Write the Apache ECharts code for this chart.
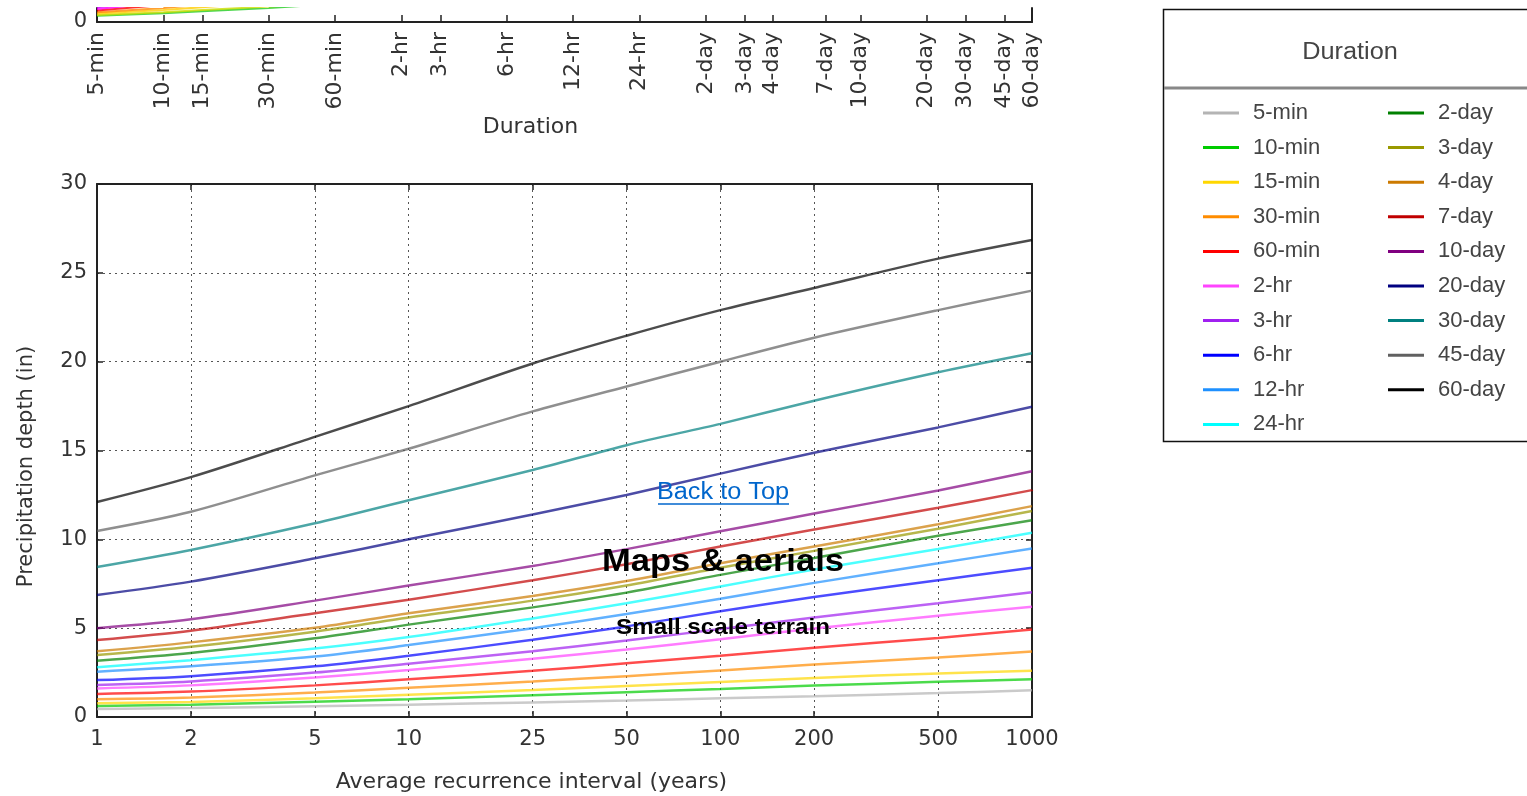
<!DOCTYPE html>
<html>
<head>
<meta charset="utf-8">
<title>Precipitation depth vs recurrence interval</title>
<script src="https://cdn.jsdelivr.net/npm/echarts@6/dist/echarts.min.js"></script>
<style>
  html, body { margin: 0; padding: 0; background: #fff; }
  #main { width: 1527px; height: 796px; }
</style>
</head>
<body>
<div id="main"></div>
<script>
'use strict';

// durations (legend / upper chart axis)
var durations = ['5-min', '10-min', '15-min', '30-min', '60-min', '2-hr', '3-hr', '6-hr', '12-hr', '24-hr',
    '2-day', '3-day', '4-day', '7-day', '10-day', '20-day', '30-day', '45-day', '60-day'];
var durationMinutes = [5, 10, 15, 30, 60, 120, 180, 360, 720, 1440,
    2880, 4320, 5760, 10080, 14400, 28800, 43200, 64800, 86400];

// average recurrence interval (years), bottom axis ticks
var recurrenceYears = [1, 2, 5, 10, 25, 50, 100, 200, 500, 1000];

// precipitation depth (in) per duration, one value per recurrence interval
var depth5min  = [0.45, 0.50, 0.60, 0.69, 0.82, 0.93, 1.05, 1.17, 1.35, 1.50];
var depth10min = [0.62, 0.69, 0.86, 1.00, 1.22, 1.40, 1.58, 1.77, 1.98, 2.12];
var depth15min = [0.77, 0.85, 1.06, 1.25, 1.52, 1.74, 1.97, 2.20, 2.45, 2.61];
var depth30min = [1.00, 1.10, 1.38, 1.64, 2.00, 2.30, 2.62, 2.95, 3.35, 3.68];
var depth60min = [1.30, 1.43, 1.78, 2.12, 2.60, 3.02, 3.45, 3.90, 4.45, 4.93];
var depth2hr   = [1.61, 1.78, 2.22, 2.65, 3.28, 3.80, 4.38, 4.98, 5.70, 6.21];
var depth3hr   = [1.80, 2.00, 2.50, 3.00, 3.70, 4.30, 4.95, 5.60, 6.40, 7.02];
var depth6hr   = [2.08, 2.30, 2.85, 3.45, 4.35, 5.10, 5.95, 6.75, 7.70, 8.40];
var depth12hr  = [2.55, 2.85, 3.40, 4.05, 5.00, 5.80, 6.65, 7.55, 8.65, 9.49];
var depth24hr  = [2.80, 3.20, 3.85, 4.50, 5.55, 6.40, 7.35, 8.30, 9.45, 10.37];
var depth2day  = [3.17, 3.60, 4.43, 5.20, 6.17, 7.00, 8.00, 8.95, 10.20, 11.08];
var depth3day  = [3.49, 3.95, 4.80, 5.60, 6.55, 7.40, 8.40, 9.35, 10.60, 11.60];
var depth4day  = [3.70, 4.20, 5.02, 5.84, 6.81, 7.65, 8.65, 9.60, 10.85, 11.87];
var depth7day  = [4.33, 4.86, 5.84, 6.60, 7.70, 8.60, 9.60, 10.55, 11.78, 12.77];
var depth10day = [5.00, 5.50, 6.55, 7.40, 8.50, 9.45, 10.45, 11.45, 12.75, 13.83];
var depth20day = [6.87, 7.62, 8.93, 10.00, 11.40, 12.50, 13.70, 14.87, 16.30, 17.46];
var depth30day = [8.44, 9.40, 10.90, 12.20, 13.90, 15.30, 16.50, 17.80, 19.40, 20.47];
var depth45day = [10.47, 11.55, 13.60, 15.10, 17.20, 18.60, 20.00, 21.35, 22.90, 24.00];
var depth60day = [12.10, 13.50, 15.77, 17.50, 19.90, 21.46, 22.90, 24.15, 25.80, 26.85];

var depthByDuration = [depth5min, depth10min, depth15min, depth30min, depth60min, depth2hr, depth3hr,
    depth6hr, depth12hr, depth24hr, depth2day, depth3day, depth4day, depth7day, depth10day,
    depth20day, depth30day, depth45day, depth60day];

var durationColors = ['#b4b4b4', '#00cc00', '#ffd700', '#ff8c00', '#ff0000', '#ff44ff', '#a020f0',
    '#0000ff', '#1e90ff', '#00ffff', '#008000', '#999900', '#cc7a00', '#c00000', '#800080',
    '#000080', '#008080', '#606060', '#000000'];
var recurrenceColors = ['#22cc22', '#ccdd00', '#ffcc00', '#ff8800', '#ff0000', '#ff00ff',
    '#cc00ff', '#9900ff', '#6600ff', '#3300ff'];

function rgba(hex, a) {
    var n = parseInt(hex.slice(1), 16);
    return 'rgba(' + (n >> 16) + ',' + ((n >> 8) & 255) + ',' + (n & 255) + ',' + a + ')';
}

var yearLogs = recurrenceYears.map(function(y) { return Math.log10(y); });
var minuteLogs = durationMinutes.map(function(m) { return Math.log10(m); });

var myChart = echarts.init(document.getElementById('main'));

var axisFont = 'DejaVu Sans';
var series = [];

// lower chart: depth vs recurrence interval, one line per duration
durations.forEach(function(name, i) {
    series.push({
        name: name,
        type: 'line',
        xAxisIndex: 0,
        yAxisIndex: 0,
        smooth: 0.3,
        showSymbol: false,
        color: durationColors[i],
        lineStyle: { width: 2.5, color: rgba(durationColors[i], 0.7) },
        data: recurrenceYears.map(function(y, k) { return [yearLogs[k], depthByDuration[i][k]]; }),
        z: 3
    });
});

// upper chart (cropped): depth vs duration, one line per recurrence interval
recurrenceYears.forEach(function(yr, k) {
    series.push({
        name: yr + '-yr',
        type: 'line',
        xAxisIndex: 2,
        yAxisIndex: 2,
        showSymbol: false,
        color: recurrenceColors[k],
        lineStyle: { width: 2, color: rgba(recurrenceColors[k], 0.8) },
        data: durationMinutes.map(function(m, i) { return [minuteLogs[i], depthByDuration[i][k]]; }),
        z: 3
    });
});

var spine = { show: true, onZero: false, lineStyle: { color: '#222', width: 2 } };
var dotted = { show: true, lineStyle: { color: '#555', width: 1, type: [2, 4] } };
var tickStyle = { color: '#222', width: 1.5 };

var option = {
    animation: false,
    backgroundColor: '#fff',
    grid: [
        { left: 97, right: 495, top: 184, bottom: 79, outerBoundsMode: 'none' },
        { left: 97, right: 495, top: 8, height: 14, outerBoundsMode: 'none' }
    ],
    xAxis: [{
        type: 'value',
        gridIndex: 0,
        position: 'bottom',
        min: 0,
        max: 3,
        axisLine: spine,
        axisTick: { show: true, inside: true, length: 6, customValues: yearLogs, lineStyle: tickStyle },
        axisLabel: {
            customValues: yearLogs,
            margin: 12,
            fontSize: 21,
            color: '#333',
            fontFamily: axisFont,
            formatter: function(v) { return String(Math.round(Math.pow(10, v))); }
        },
        splitLine: dotted,
        name: 'Average recurrence interval (years)',
        nameLocation: 'middle',
        nameGap: 54,
        nameTextStyle: { fontSize: 22, color: '#333', fontFamily: axisFont, padding: [0, 66, 0, 0] }
    }, {
        type: 'value',
        gridIndex: 0,
        position: 'top',
        min: 0,
        max: 3,
        axisLine: spine,
        axisTick: { show: true, inside: true, length: 6, customValues: yearLogs, lineStyle: tickStyle },
        axisLabel: { show: false },
        splitLine: { show: false }
    }, {
        type: 'value',
        gridIndex: 1,
        position: 'bottom',
        min: minuteLogs[0],
        max: minuteLogs[minuteLogs.length - 1],
        axisLine: spine,
        axisTick: { show: true, inside: true, length: 7, customValues: minuteLogs, lineStyle: tickStyle },
        axisLabel: {
            customValues: minuteLogs,
            rotate: 90,
            margin: 10,
            fontSize: 22,
            color: '#333',
            fontFamily: axisFont,
            formatter: function(v) {
                for (var i = 0; i < minuteLogs.length; i++) {
                    if (Math.abs(minuteLogs[i] - v) < 1e-6) return durations[i];
                }
                return '';
            }
        },
        splitLine: { show: false },
        name: 'Duration',
        nameLocation: 'middle',
        nameGap: 94,
        nameTextStyle: { fontSize: 22, color: '#333', fontFamily: axisFont, padding: [0, 68, 0, 0] }
    }],
    yAxis: [{
        type: 'value',
        gridIndex: 0,
        position: 'left',
        min: 0,
        max: 30,
        interval: 5,
        axisLine: spine,
        axisTick: { show: true, inside: true, length: 6, lineStyle: tickStyle },
        axisLabel: { margin: 10, fontSize: 21, color: '#333', fontFamily: axisFont },
        splitLine: dotted,
        name: 'Precipitation depth (in)',
        nameLocation: 'middle',
        nameGap: 60,
        nameTextStyle: { fontSize: 21, color: '#333', fontFamily: axisFont, padding: [0, 32, 0, 0] }
    }, {
        type: 'value',
        gridIndex: 0,
        position: 'right',
        min: 0,
        max: 30,
        interval: 5,
        axisLine: spine,
        axisTick: { show: true, inside: true, length: 6, lineStyle: tickStyle },
        axisLabel: { show: false },
        splitLine: { show: false }
    }, {
        type: 'value',
        gridIndex: 1,
        position: 'left',
        min: 0,
        max: 1,
        interval: 1,
        axisLine: spine,
        axisTick: { show: false },
        axisLabel: {
            margin: 10, fontSize: 21, color: '#333', fontFamily: axisFont,
            formatter: function(v) { return v === 0 ? '0' : ''; }
        },
        splitLine: { show: false }
    }, {
        type: 'value',
        gridIndex: 1,
        position: 'right',
        min: 0,
        max: 1,
        axisLine: spine,
        axisTick: { show: false },
        axisLabel: { show: false },
        splitLine: { show: false }
    }],
    legend: [{
        data: durations.slice(0, 10),
        orient: 'vertical',
        left: 1198,
        top: 97,
        icon: 'rect',
        itemWidth: 36,
        itemHeight: 3,
        itemGap: 12.6,
        selectedMode: false,
        textStyle: { fontSize: 22, lineHeight: 22, color: '#444', fontFamily: 'Liberation Sans', padding: [0, 0, 0, 9] }
    }, {
        data: durations.slice(10),
        orient: 'vertical',
        left: 1383,
        top: 97,
        icon: 'rect',
        itemWidth: 36,
        itemHeight: 3,
        itemGap: 12.6,
        selectedMode: false,
        textStyle: { fontSize: 22, lineHeight: 22, color: '#444', fontFamily: 'Liberation Sans', padding: [0, 0, 0, 9] }
    }],
    graphic: [{
        type: 'rect',
        shape: { x: 1163.5, y: 9.5, width: 400, height: 432 },
        style: { fill: 'none', stroke: '#111', lineWidth: 1.5 },
        z: 1
    }, {
        type: 'line',
        shape: { x1: 1164, y1: 88, x2: 1527, y2: 88 },
        style: { stroke: '#888', lineWidth: 3 },
        z: 1
    }, {
        type: 'text',
        x: 1350,
        y: 53,
        scaleX: 1.1,
        style: { text: 'Duration', fontSize: 23, fill: '#444', fontFamily: 'Liberation Sans', align: 'center', verticalAlign: 'middle' },
        z: 10
    }, {
        type: 'text',
        x: 723,
        y: 493,
        scaleX: 1.1,
        style: { text: 'Back to Top', fontSize: 23, fill: '#0066cc', fontFamily: 'Liberation Sans', align: 'center', verticalAlign: 'middle' },
        z: 10
    }, {
        type: 'line',
        shape: { x1: 658, y1: 504, x2: 789, y2: 504 },
        style: { stroke: '#0066cc', lineWidth: 1.5 },
        z: 10
    }, {
        type: 'text',
        x: 723,
        y: 562,
        scaleX: 1.08,
        style: { text: 'Maps & aerials', fontSize: 32, fontWeight: 'bold', fill: '#000', fontFamily: 'Liberation Sans', align: 'center', verticalAlign: 'middle' },
        z: 10
    }, {
        type: 'text',
        x: 723,
        y: 628,
        scaleX: 1.1,
        style: { text: 'Small scale terrain', fontSize: 22, fontWeight: 'bold', fill: '#000', fontFamily: 'Liberation Sans', align: 'center', verticalAlign: 'middle' },
        z: 10
    }],
    series: series
};

myChart.setOption(option);
</script>
</body>
</html>
